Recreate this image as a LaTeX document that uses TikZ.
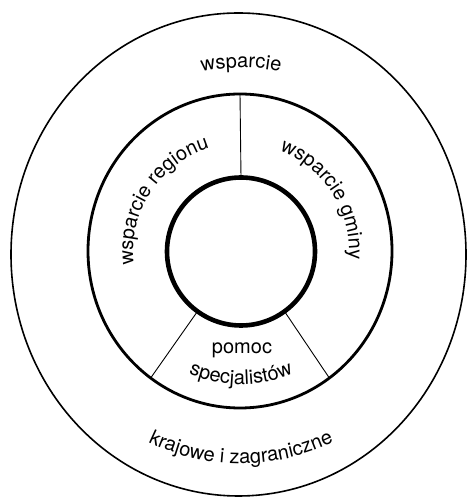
\documentclass[tikz,border=0pt]{standalone}
\usepackage{fontspec}
\setmainfont{TeX Gyre Heros}
\usetikzlibrary{decorations.text,calc}
\newcommand\lab{\fontsize{20}{24}\selectfont}
\tikzset{
  outerring/.style={line width=1.6pt},
  midring/.style={line width=2.8pt},
  innerring/.style={line width=4.6pt},
  divider/.style={line width=0.9pt},
  curvedlabel/.style={decorate, decoration={text along path, text={|\lab|#1}, text align=center}}
}
\begin{document}
\begin{tikzpicture}[x=1pt,y=1pt]
\useasboundingbox (0,0) rectangle (467,497);
\coordinate (oc) at (238.5,242.5);
\coordinate (mc) at (240,246);
\coordinate (ic) at (241,245.5);
% rings
\draw[outerring] (oc) ellipse [x radius=227.5pt, y radius=241.5pt];
\draw[midring] (mc) ellipse [x radius=152pt, y radius=157pt];
\draw[innerring] (ic) circle [radius=74pt];
% dividers
\coordinate (t1) at ($(ic)+(90:74pt)$);
\coordinate (t2) at ($(mc)+(90:152pt and 157pt)$);
\coordinate (l1) at ($(ic)+(234:74pt)$);
\coordinate (l2) at ($(mc)+(234:152pt and 157pt)$);
\coordinate (r1) at ($(ic)+(306:74pt)$);
\coordinate (r2) at ($(mc)+(306:152pt and 157pt)$);
\draw[divider] (t1) -- (t2);
\draw[divider] (l1) -- (l2);
\draw[divider] (r1) -- (r2);
% labels
\path[curvedlabel={wsparcie}] ($(ic)+(112:184pt)$) arc[start angle=112, end angle=68, radius=184pt];
\path[curvedlabel={krajowe i zagraniczne}] ($(ic)+(220:212pt)$) arc[start angle=220, end angle=320, radius=212pt];
\path[curvedlabel={wsparcie regionu}] ($(ic)+(200:108pt)$) arc[start angle=200, end angle=94, radius=108pt];
\path[curvedlabel={wsparcie gminy}] ($(ic)+(84:108pt)$) arc[start angle=84, end angle=-19, radius=108pt];
\path[curvedlabel={specjalistów}] ($(ic)+(230:133pt)$) arc[start angle=230, end angle=310, radius=133pt];
\node[anchor=base, inner sep=0pt, font=\lab] (pomoc) at (242,143) {pomoc};
\end{tikzpicture}
\end{document}
